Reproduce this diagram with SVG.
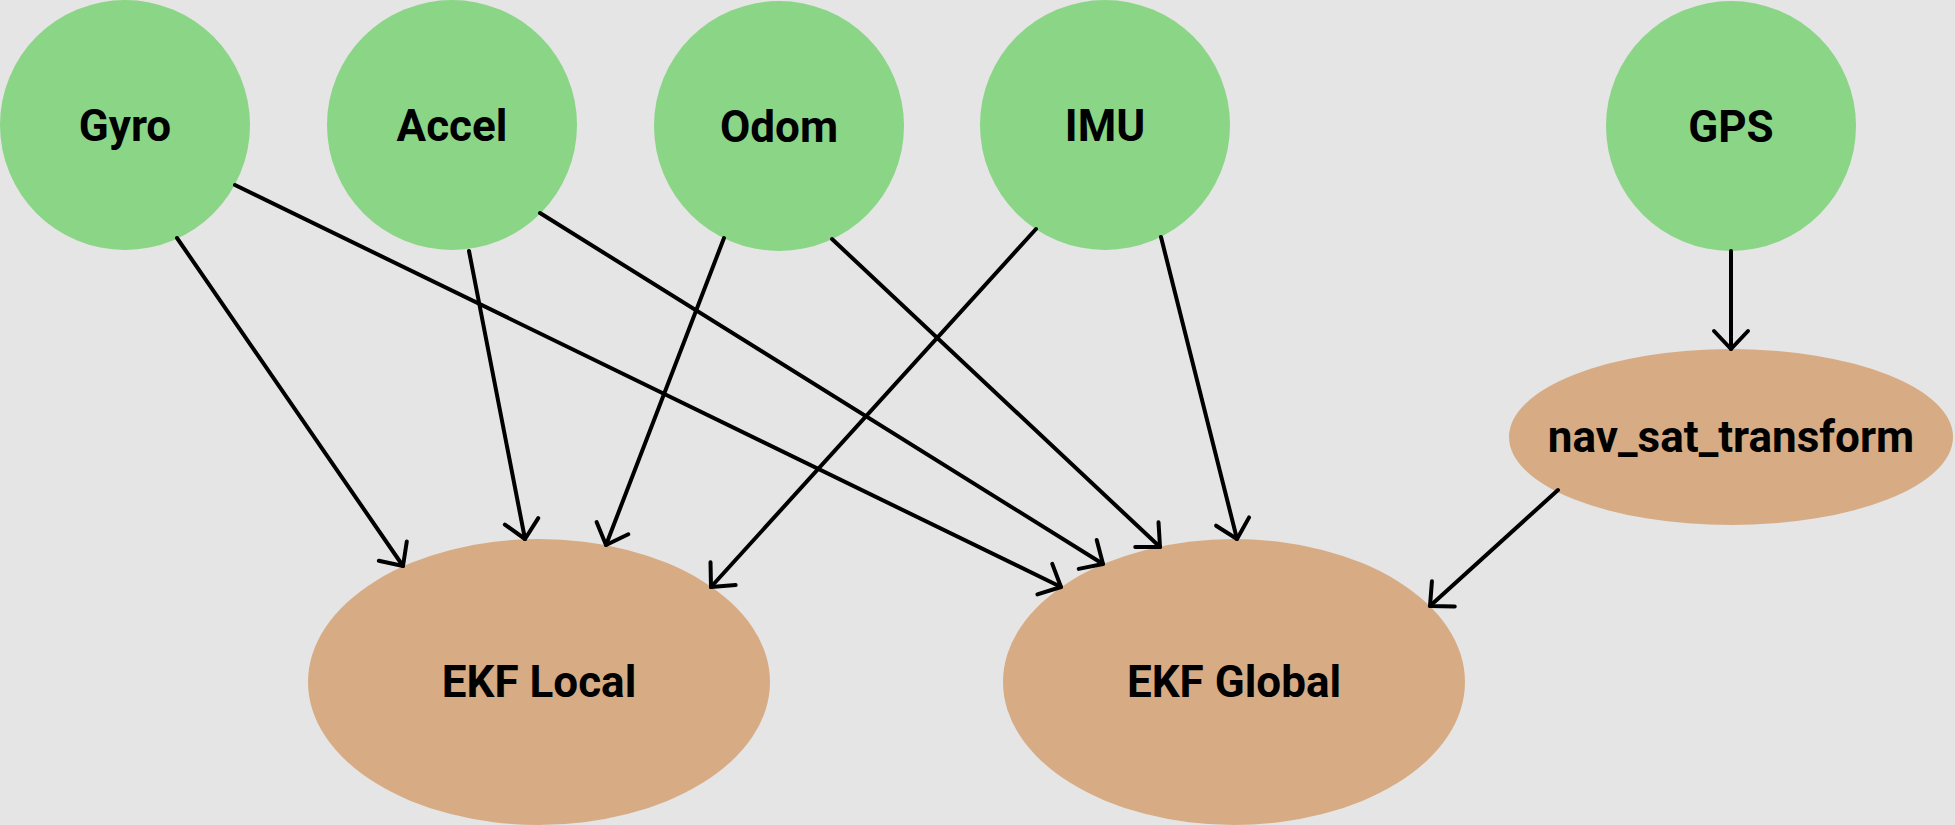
<svg xmlns="http://www.w3.org/2000/svg" width="1955" height="825" viewBox="0 0 1955 825">
  <defs>
    <style>
      .src { fill: #8ad586; }
      .proc { fill: #d7ac85; }
      .lbl { font-family: Roboto, "Liberation Sans", sans-serif; font-weight: 700; font-size: 44px; fill: #000; text-anchor: middle; }
      .edge { stroke: #000; stroke-width: 4; fill: none; stroke-linecap: round; marker-end: url(#arrow); }
    </style>
    <marker id="arrow" markerUnits="userSpaceOnUse" orient="auto" refX="0" refY="0" markerWidth="40" markerHeight="40" overflow="visible">
      <path d="M -18 -17 L 0 0 L -18 17" fill="none" stroke="#000" stroke-width="4" stroke-linecap="round" stroke-linejoin="round"/>
    </marker>
  </defs>
  <rect x="0" y="0" width="1955" height="825" fill="#e5e5e5"/>

  <g id="gyro"><circle class="src" cx="125" cy="125" r="125"/><text class="lbl" x="125" y="141">Gyro</text></g>
  <g id="accel"><circle class="src" cx="452" cy="125" r="125"/><text class="lbl" x="452" y="141">Accel</text></g>
  <g id="odom"><circle class="src" cx="779" cy="126" r="125"/><text class="lbl" x="779" y="142">Odom</text></g>
  <g id="imu"><circle class="src" cx="1105" cy="125" r="125"/><text class="lbl" x="1105" y="141">IMU</text></g>
  <g id="gps"><circle class="src" cx="1731" cy="126" r="125"/><text class="lbl" x="1731" y="142">GPS</text></g>
  <g id="nav_sat_transform"><ellipse class="proc" cx="1731" cy="437" rx="222" ry="88"/><text class="lbl" x="1731" y="452">nav_sat_transform</text></g>
  <g id="ekf_local"><ellipse class="proc" cx="539" cy="682" rx="231" ry="143"/><text class="lbl" x="539" y="697">EKF Local</text></g>
  <g id="ekf_global"><ellipse class="proc" cx="1234" cy="682" rx="231" ry="143"/><text class="lbl" x="1234" y="697">EKF Global</text></g>

  <g id="connectors">
    <line class="edge" x1="177" y1="238" x2="403" y2="566"/>
    <line class="edge" x1="235" y1="185" x2="1061" y2="587"/>
    <line class="edge" x1="469" y1="251" x2="525" y2="539"/>
    <line class="edge" x1="540" y1="213" x2="1103" y2="564"/>
    <line class="edge" x1="724" y1="238" x2="606" y2="545"/>
    <line class="edge" x1="832" y1="239" x2="1160" y2="547"/>
    <line class="edge" x1="1036" y1="229" x2="711" y2="587"/>
    <line class="edge" x1="1161" y1="237" x2="1237" y2="539"/>
    <line class="edge" x1="1731" y1="251" x2="1731" y2="349"/>
    <line class="edge" x1="1558" y1="490" x2="1430" y2="606"/>
  </g>
</svg>
